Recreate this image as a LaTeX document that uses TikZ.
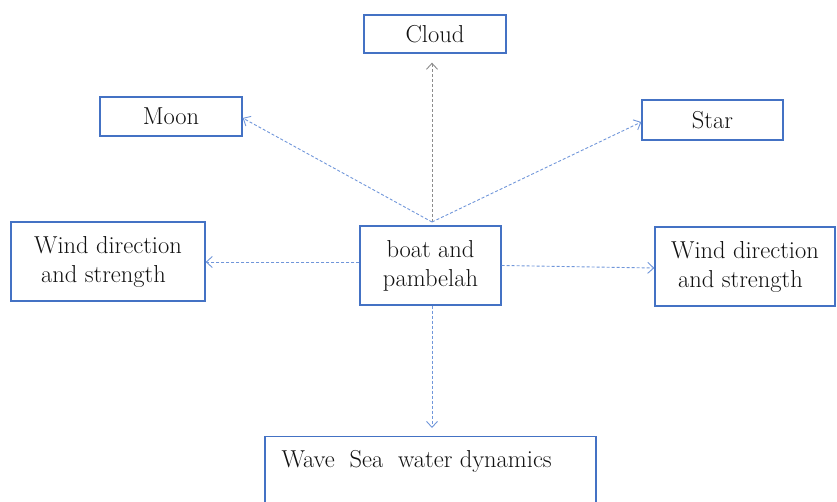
\documentclass[tikz,border=0pt]{standalone}
\usepackage{tikz}
\usepackage{xcolor}
\usetikzlibrary{arrows.meta}

\definecolor{boxblue}{HTML}{4472C4}
\definecolor{linkblue}{HTML}{7096DA}
\definecolor{linkgray}{HTML}{8C8C8C}
\definecolor{inktext}{HTML}{111111}

\tikzset{
    item/.style={draw=boxblue, line width=1.3pt, inner sep=0pt, text=inktext, font=\fontsize{24.5}{29}\selectfont},
    link/.style={linkblue, line width=0.9pt, dash pattern=on 3pt off 2pt, -{Straight Barb[length=6pt,width=11pt]}}
}

\begin{document}
\begin{tikzpicture}[x=1pt, y=-1pt]
    \useasboundingbox (0,0) rectangle (837,502);
    \clip (0,0) rectangle (837,502);
    % Nodes around the boat
    \node[item, minimum width=142, minimum height=38] (cloud) at (435,34) {Cloud};
    \node[item, minimum width=142, minimum height=39] (moon) at (171,116.5) {Moon};
    \node[item, minimum width=141, minimum height=40] (star) at (712.5,120) {Star};
    \node[item, minimum width=194, minimum height=79, align=left] (windleft) at (108,261.5) {Wind direction\\\hspace*{7pt}and strength};
    \node[item, minimum width=141, minimum height=79, align=center] (boat) at (430.5,265.5) {boat and\\pambelah};
    \node[item, minimum width=180, minimum height=79, align=left] (windright) at (745,266.5) {Wind direction\\\hspace*{7pt}and strength};
    \node[item, minimum width=331, minimum height=90, anchor=north,
        label={[anchor=base west, text=inktext, font=\fontsize{24.5}{29}\selectfont, inner sep=0pt, xshift=17pt, yshift=-31pt]north west:Wave\ \ Sea\ \ water dynamics}] (wave) at (430.5,436) {};
    \coordinate (hub) at (432,222);
    % Dashed links
    \draw[link, linkgray] (hub) -- ([xshift=-3pt,yshift=-9pt]cloud.south);
    \draw[link] (hub) -- ([yshift=-1.5pt]moon.east);
    \draw[link] (hub) -- ([yshift=-2pt]star.west);
    \draw[link] ([yshift=3.5pt]boat.west) -- ([yshift=-0.5pt]windleft.east);
    \draw[link] (boat.east) -- ([yshift=-1.5pt]windright.west);
    \draw[link] ([xshift=1.5pt]boat.south) -- ([xshift=1.5pt,yshift=8pt]wave.north);
\end{tikzpicture}
\end{document}
